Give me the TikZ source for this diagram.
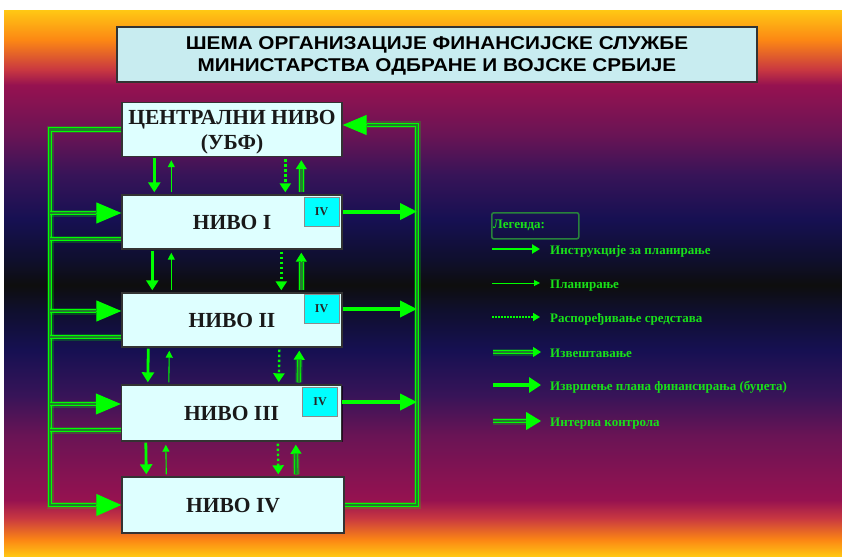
\documentclass[tikz,border=0pt]{standalone}
\usepackage{fontspec}
\setmainfont{Liberation Serif}
\newfontfamily\titlefont{Liberation Sans}[FakeStretch=1.12]
\usetikzlibrary{arrows.meta,shadows,calc}
\definecolor{gbright}{RGB}{0,255,0}
\definecolor{gdim}{RGB}{35,125,45}
\definecolor{gtext}{RGB}{25,225,25}
\definecolor{lgframe}{RGB}{40,130,60}
\definecolor{boxfill}{RGB}{222,255,255}
\definecolor{titlefill}{RGB}{200,236,240}
\definecolor{ivfill}{RGB}{0,255,255}
\definecolor{bga}{RGB}{255,198,20}
\definecolor{bgb}{RGB}{252,135,20}
\definecolor{bgc}{RGB}{200,55,65}
\definecolor{bgd}{RGB}{150,18,80}
\definecolor{bge}{RGB}{105,20,85}
\definecolor{bgf}{RGB}{55,20,88}
\definecolor{bgg}{RGB}{22,16,82}
\definecolor{bgh}{RGB}{15,15,45}
\definecolor{bgi}{RGB}{14,14,14}
\pgfdeclareverticalshading{bgshade}{100bp}{%
color(0bp)=(bga); color(25bp)=(bga); color(26.47bp)=(bgb); color(28.49bp)=(bgc);
color(30.14bp)=(bgd); color(36.10bp)=(bge); color(39.77bp)=(bgf); color(43.90bp)=(bgg);
color(47.57bp)=(bgh); color(49.86bp)=(bgi); color(52.16bp)=(bgh); color(55.83bp)=(bgg);
color(59.95bp)=(bgf); color(63.62bp)=(bge); color(68.21bp)=(bgd); color(69.59bp)=(bgc);
color(72.34bp)=(bgb); color(75bp)=(bga); color(100bp)=(bga)}
\newcommand\dblarr[4]{%
  \draw[gbright, line width=1pt, -{Triangle[length=#1,width=#2]}] #3 -- #4;
  \draw[dblshaft, shorten >=#1] #3 -- #4;}
\begin{document}
\begin{tikzpicture}[x=1pt,y=-1pt,
  box/.style={draw=black!80, line width=1.4pt, fill=boxfill, minimum width=220pt,
    minimum height=54pt, inner sep=0pt, text=black!90, align=center, text depth=0pt,
    font=\fontsize{21.5}{25}\selectfont\bfseries,
    drop shadow={shadow xshift=1pt, shadow yshift=-1pt, opacity=0.6, fill=black}},
  ivbox/.style={draw=black!45, line width=0.8pt, fill=ivfill, minimum width=35pt,
    minimum height=29pt, inner sep=0pt, font=\fontsize{12}{13}\selectfont\bfseries, text=black!85},
  dblshaft/.style={draw=gbright, line width=0.9pt, double=gdim, double distance=2.6pt,
    preaction={draw=gbright, draw opacity=0.22, line width=7pt}},
  instr/.style={draw=gbright, line width=2.8pt, -{Triangle[length=10pt,width=12pt]}},
  plan/.style={draw=gbright, line width=1.1pt, -{Triangle[length=7pt,width=7pt]}},
  dist/.style={draw=gbright, line width=2.4pt, dash pattern=on 2.5pt off 2.5pt,
    -{Triangle[length=9pt,width=11pt]}},
  exec/.style={draw=gbright, line width=4pt, -{Triangle[length=17pt,width=16pt]}},
  lgtext/.style={text=gtext, font=\fontsize{13}{15}\selectfont\bfseries, inner sep=0pt, anchor=base west},
]
\useasboundingbox (0,0) rectangle (842,556);
\fill[white] (0,0) rectangle (842,556);
\shade[shading=bgshade] (4,11) rectangle (842,556);

% title
\node[draw=black!80, line width=1.3pt, fill=titlefill, minimum width=640pt, minimum height=55pt,
  align=center, inner sep=0pt, text depth=0pt, font=\titlefont\bfseries\fontsize{18.5}{22}\selectfont,
  drop shadow={shadow xshift=1pt, shadow yshift=-1pt, opacity=0.6, fill=black}]
  (title) at (437,54.5) {ШЕМА ОРГАНИЗАЦИЈЕ ФИНАНСИЈСКЕ СЛУЖБЕ\\МИНИСТАРСТВА ОДБРАНЕ И ВОЈСКЕ СРБИЈЕ};

% level boxes
\node[box] (c) at (232,129.5) {ЦЕНТРАЛНИ НИВО\\(УБФ)};
\node[box] (n1) at (232,222) {НИВО I};
\node[box] (n2) at (232,320) {НИВО II};
\node[box, minimum height=56pt] (n3) at (231.5,413) {НИВО III};
\node[box, minimum width=222pt, minimum height=56pt] (n4) at (233,505) {НИВО IV};
\node[ivbox] (iv1) at (321.5,211.5) {IV};
\node[ivbox] (iv2) at (321.5,309) {IV};
\node[ivbox] (iv3) at (320,402) {IV};

\coordinate (lx) at (50,0);
\coordinate (rx) at (417,0);
\coordinate (r0) at ([yshift=4.5pt]c.east);

% left loop
\dblarr{25pt}{22pt}{(c.west) -| (lx |- n4.west)}{(n4.west)}
\foreach \n in {n1,n2,n3}{
  \coordinate (\n a) at ([yshift=9pt]\n.west);
  \coordinate (\n b) at ([yshift=-17pt]\n.west);
  \draw[dblshaft] (\n b) -- (lx |- \n b);
  \dblarr{25pt}{21pt}{(lx |- \n a)}{(\n a)}
}

% right loop
\dblarr{24pt}{20pt}{(n4.east) -| (rx |- r0)}{(r0)}
\foreach \n/\i in {n1/iv1,n2/iv2,n3/iv3}{
  \draw[exec] (\n.east |- \i) -- (rx |- \i);
}

% vertical arrows between levels
\foreach \ta/\tb/\a/\b/\d/\e in {c/n1/33/50/164/180, n1/n2/31/50/160/180, n2/n3/27/48/158/178, n3/n4/25/45/157/175}{
  \draw[instr] ($(\ta.south west)+(\a,1)$) -- ($(\tb.north west)+(\a,-2)$);
  \draw[plan] ($(\tb.north west)+(\b,-2)$) -- ($(\ta.south west)+(\b,3)$);
  \draw[dist] ($(\ta.south west)+(\d,2)$) -- ($(\tb.north west)+(\d,-2)$);
  \dblarr{9pt}{11pt}{($(\tb.north west)+(\e,-2)$)}{($(\ta.south west)+(\e,3)$)}
}

% legend
\node[draw=lgframe, line width=1.6pt, rounded corners=2pt, minimum width=87pt,
  minimum height=26pt, anchor=north west] (lg) at (491,212) {};
\node[lgtext, anchor=west] (lgt) at ([xshift=2pt]lg.west) {Легенда:};
\node[lgtext] (l1) at (550,254) {Инструкције за планирање};
\node[lgtext] (l2) at (550,288) {Планирање};
\node[lgtext] (l3) at (550,322) {Распоређивање средстава};
\node[lgtext] (l4) at (550,357) {Извештавање};
\node[lgtext] (l5) at (550,390) {Извршење плана финансирања (буџета)};
\node[lgtext] (l6) at (550,426) {Интерна контрола};

\draw[instr, line width=2.5pt, -{Triangle[length=8pt,width=9pt]}] ($(l1.base west)+(-58,-5)$) -- ($(l1.base west)+(-10,-5)$);
\draw[plan, line width=1pt, -{Triangle[length=6pt,width=6pt]}] ($(l2.base west)+(-58,-5)$) -- ($(l2.base west)+(-10,-5)$);
\draw[dist, line width=1.5pt, dash pattern=on 1.5pt off 1.5pt, -{Triangle[length=7pt,width=8pt]}] ($(l3.base west)+(-58,-5)$) -- ($(l3.base west)+(-10,-5)$);
\dblarr{8pt}{10pt}{($(l4.base west)+(-57,-5)$)}{($(l4.base west)+(-9,-5)$)}
\draw[exec, line width=3.5pt, -{Triangle[length=12pt,width=15pt]}] ($(l5.base west)+(-57,-5)$) -- ($(l5.base west)+(-9,-5)$);
\dblarr{15pt}{18pt}{($(l6.base west)+(-57,-5)$)}{($(l6.base west)+(-9,-5)$)}
\end{tikzpicture}
\end{document}
